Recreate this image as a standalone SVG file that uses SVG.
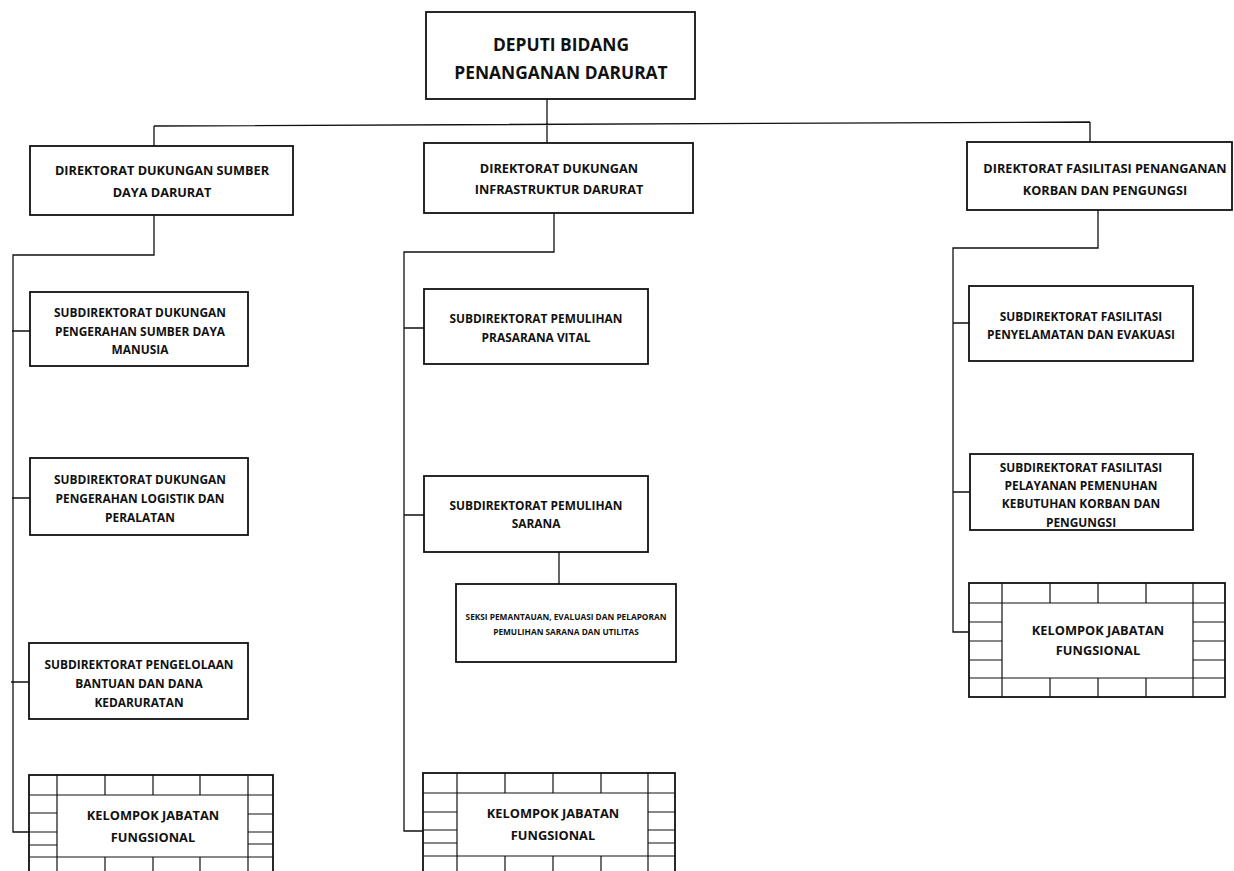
<svg xmlns="http://www.w3.org/2000/svg" width="1234" height="871" viewBox="0 0 1234 871">
<style>
.bx{fill:#fff;stroke:#111;stroke-width:1.8}
.gr{fill:none;stroke:#111;stroke-width:1.2}
.cn{fill:none;stroke:#111;stroke-width:1.3}
text{font-family:"Open Sans","DejaVu Sans",sans-serif;font-weight:700;fill:#111;text-anchor:middle}
.t0{font-size:17.4px}
.t1{font-size:12.7px}
.t2{font-size:11.9px}
.t3{font-size:8.3px}
.t4{font-size:12.8px}
</style>
<rect width="1234" height="871" fill="#fff"/>
<g id="connectors">
<path class="cn" d="M547 99 V124 M154 126 L1090 122 M154 126 V146 M547 124 V143 M1090 122 V142"/>
<path class="cn" d="M154 215 V255 H13 V832 H29 M12 331 H30 M12 498 H30 M11 682 H29"/>
<path class="cn" d="M554 213 V252 H404 V831 H423 M404 328 H424 M404 515 H424 M559 552 V584"/>
<path class="cn" d="M1098 210 V248 H953 V632 H969 M953 323 H969 M953 492 H970"/>
</g>
<g id="deputi">
<rect class="bx" x="426" y="12" width="269" height="87"/>
<text class="t0" x="561" y="51">DEPUTI BIDANG</text>
<text class="t0" x="561" y="79">PENANGANAN DARURAT</text>
</g>
<g id="dir1">
<rect class="bx" x="30" y="146" width="263" height="69"/>
<text class="t1" x="162" y="174.5">DIREKTORAT DUKUNGAN SUMBER</text>
<text class="t1" x="162" y="196.5">DAYA DARURAT</text>
</g>
<g id="dir2">
<rect class="bx" x="424" y="143" width="269" height="70"/>
<text class="t1" x="559" y="172.5">DIREKTORAT DUKUNGAN</text>
<text class="t1" x="559" y="193.5">INFRASTRUKTUR DARURAT</text>
</g>
<g id="dir3">
<rect class="bx" x="967" y="142" width="265" height="68"/>
<text class="t1" x="1105" y="172.5">DIREKTORAT FASILITASI PENANGANAN</text>
<text class="t1" x="1105" y="194.5">KORBAN DAN PENGUNGSI</text>
</g>
<g id="sub1a">
<rect class="bx" x="30" y="292" width="218" height="74"/>
<text class="t2" x="140" y="316.5">SUBDIREKTORAT DUKUNGAN</text>
<text class="t2" x="140" y="335.5">PENGERAHAN SUMBER DAYA</text>
<text class="t2" x="140" y="353.5">MANUSIA</text>
</g>
<g id="sub1b">
<rect class="bx" x="30" y="458" width="218" height="77"/>
<text class="t2" x="140" y="483.5">SUBDIREKTORAT DUKUNGAN</text>
<text class="t2" x="140" y="502.5">PENGERAHAN LOGISTIK DAN</text>
<text class="t2" x="140" y="521.5">PERALATAN</text>
</g>
<g id="sub1c">
<rect class="bx" x="29" y="643" width="219" height="76"/>
<text class="t2" x="139" y="668.5">SUBDIREKTORAT PENGELOLAAN</text>
<text class="t2" x="139" y="687.5">BANTUAN DAN DANA</text>
<text class="t2" x="139" y="706.5">KEDARURATAN</text>
</g>
<g id="jf1">
<rect class="bx" x="29" y="775" width="244" height="110"/>
<path class="gr" d="M57 775 V871 M248 775 V871 M29 795 H273 M29 857 H273 M105 775 V795 M153 775 V795 M200 775 V795 M105 857 V871 M153 857 V871 M200 857 V871 M29 813 H57 M29 832 H57 M29 845 H57 M248 814 H273 M248 832 H273 M248 844 H273"/>
<text class="t4" x="153" y="820">KELOMPOK JABATAN</text>
<text class="t4" x="153" y="842">FUNGSIONAL</text>
</g>
<g id="sub2a">
<rect class="bx" x="424" y="289" width="224" height="75"/>
<text class="t2" x="536" y="322.5">SUBDIREKTORAT PEMULIHAN</text>
<text class="t2" x="536" y="341.5">PRASARANA VITAL</text>
</g>
<g id="sub2b">
<rect class="bx" x="424" y="476" width="224" height="76"/>
<text class="t2" x="536" y="509.5">SUBDIREKTORAT PEMULIHAN</text>
<text class="t2" x="536" y="527.5">SARANA</text>
</g>
<g id="seksi">
<rect class="bx" x="456" y="584" width="220" height="78"/>
<text class="t3" x="566" y="620">SEKSI PEMANTAUAN, EVALUASI DAN PELAPORAN</text>
<text class="t3" x="566" y="635">PEMULIHAN SARANA DAN UTILITAS</text>
</g>
<g id="jf2">
<rect class="bx" x="423" y="773" width="252" height="112"/>
<path class="gr" d="M457 773 V871 M648 773 V871 M423 793 H675 M423 856 H675 M505 773 V793 M553 773 V793 M601 773 V793 M505 856 V871 M553 856 V871 M601 856 V871 M423 812 H457 M423 830 H457 M423 843 H457 M648 812 H675 M648 830 H675 M648 843 H675"/>
<text class="t4" x="553" y="818">KELOMPOK JABATAN</text>
<text class="t4" x="553" y="840">FUNGSIONAL</text>
</g>
<g id="sub3a">
<rect class="bx" x="969" y="286" width="224" height="75"/>
<text class="t2" x="1081" y="320.5">SUBDIREKTORAT FASILITASI</text>
<text class="t2" x="1081" y="338.5">PENYELAMATAN DAN EVAKUASI</text>
</g>
<g id="sub3b">
<rect class="bx" x="970" y="454" width="223" height="76"/>
<text class="t2" x="1081" y="471.5">SUBDIREKTORAT FASILITASI</text>
<text class="t2" x="1081" y="489.5">PELAYANAN PEMENUHAN</text>
<text class="t2" x="1081" y="507.5">KEBUTUHAN KORBAN DAN</text>
<text class="t2" x="1081" y="526.5">PENGUNGSI</text>
</g>
<g id="jf3">
<rect class="bx" x="969" y="583" width="256" height="114"/>
<path class="gr" d="M1002 583 V697 M1193 583 V697 M969 603 H1225 M969 678 H1225 M1050 583 V603 M1098 583 V603 M1146 583 V603 M1050 678 V697 M1098 678 V697 M1146 678 V697 M969 622 H1002 M969 641 H1002 M969 660 H1002 M1193 622 H1225 M1193 641 H1225 M1193 660 H1225"/>
<text class="t4" x="1098" y="635">KELOMPOK JABATAN</text>
<text class="t4" x="1098" y="655">FUNGSIONAL</text>
</g>
</svg>
